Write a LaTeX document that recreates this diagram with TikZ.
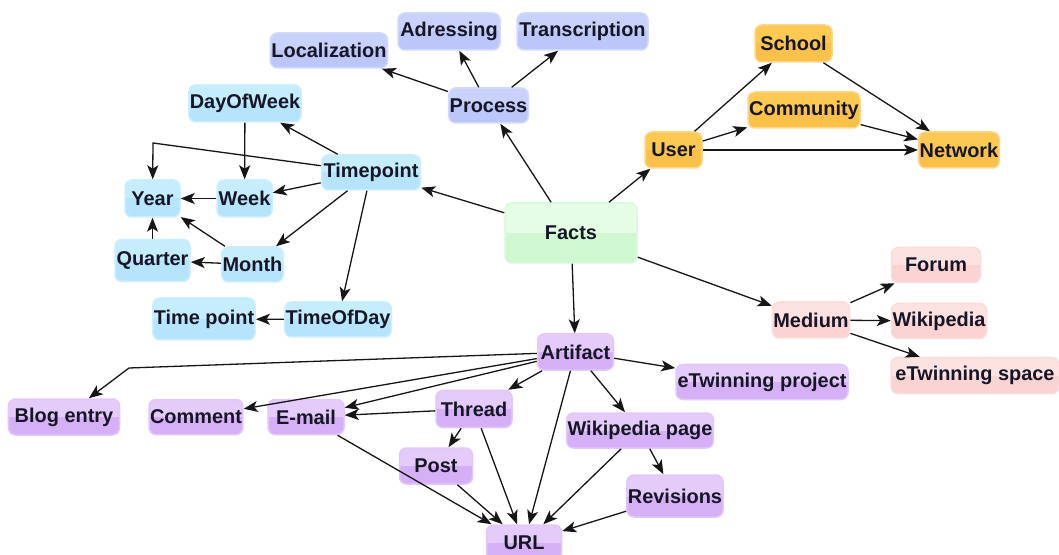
\documentclass[tikz,border=0pt]{standalone}
\usepackage{fontspec}
\setmainfont{Liberation Sans}
\usetikzlibrary{arrows.meta}

% group colours: top half, bottom half, rim
\definecolor{ink}{HTML}{161626}
\definecolor{edgec}{HTML}{161616}
\definecolor{procT}{HTML}{C9D2FB}
\definecolor{procB}{HTML}{BCC6F8}
\definecolor{procL}{HTML}{D3DAFC}
\definecolor{timeT}{HTML}{C6EDFE}
\definecolor{timeB}{HTML}{B5E4FC}
\definecolor{timeL}{HTML}{CDEEFD}
\definecolor{userT}{HTML}{FCC952}
\definecolor{userB}{HTML}{FAC14A}
\definecolor{userL}{HTML}{FCD68C}
\definecolor{factT}{HTML}{E5FCE5}
\definecolor{factB}{HTML}{D0F8D0}
\definecolor{factL}{HTML}{DAF9DA}
\definecolor{medT}{HTML}{FDE2E2}
\definecolor{medB}{HTML}{FBD3D3}
\definecolor{medL}{HTML}{F9DCDC}
\definecolor{artT}{HTML}{E4CBFA}
\definecolor{artB}{HTML}{D6B0F6}
\definecolor{artL}{HTML}{E2C8F8}

\tikzset{
  box/.style={rectangle, rounded corners=7bp, line width=1.5bp, inner sep=1bp,
    font=\bfseries\fontsize{20}{23}\selectfont, text=ink, minimum height=36bp},
  gloss/.style n args={3}{fill=#1, draw=#3,
    path picture={\fill[#2, sharp corners] (path picture bounding box.west)
      rectangle (path picture bounding box.south east);}},
  procbox/.style={box, gloss={procT}{procB}{procL}},
  timebox/.style={box, gloss={timeT}{timeB}{timeL}},
  userbox/.style={box, gloss={userT}{userB}{userL}},
  factbox/.style={box, gloss={factT}{factB}{factL}},
  medbox/.style={box, gloss={medT}{medB}{medL}},
  artbox/.style={box, gloss={artT}{artB}{artL}},
  arr/.style={draw=edgec, line width=1.3bp,
    -{Stealth[length=14bp, width=11bp, inset=3.5bp]}},
}

\begin{document}
\begin{tikzpicture}[x=1bp, y=-1bp]
\useasboundingbox (0,0) rectangle (1059,555);
\clip (0,0) rectangle (1059,555);
\fill[white] (0,0) rectangle (1059,555);

% --- process branch
\node[procbox, minimum width=112bp, minimum height=35bp] (loc)  at (329,50.5)  {Localization};
\node[procbox, minimum width=102bp, minimum height=37bp] (adr)  at (449,31.5)  {Adressing};
\node[procbox, minimum width=131bp, minimum height=37bp] (trn)  at (582.5,31.5){Transcription};
\node[procbox, minimum width=77bp,  minimum height=35bp] (proc) at (488.5,105.5){Process};

% --- user branch
\node[userbox, minimum width=77bp,  minimum height=37bp] (school) at (793.5,43.5) {School};
\node[userbox, minimum width=112bp, minimum height=36bp] (comm)   at (804,110)    {Community};
\node[userbox, minimum width=57bp,  minimum height=36bp] (user)   at (673.5,150)  {User};
\node[userbox, minimum width=78bp,  minimum height=36bp] (net)    at (959,150)    {Network};

% --- centre
\node[factbox, minimum width=132bp, minimum height=60bp] (facts) at (571,233) {Facts};

% --- time branch
\node[timebox, minimum width=110bp, minimum height=37bp] (dow)     at (245,103.5) {DayOfWeek};
\node[timebox, minimum width=99bp,  minimum height=35bp] (tp)      at (371,172.5) {Timepoint};
\node[timebox, minimum width=55bp,  minimum height=37bp] (year)    at (152.5,198.5) {Year};
\node[timebox, minimum width=55bp,  minimum height=37bp] (week)    at (244.5,198.5) {Week};
\node[timebox, minimum width=75bp,  minimum height=42bp] (quarter) at (152.5,260.5) {Quarter};
\node[timebox, minimum width=55bp,  minimum height=35bp] (month)   at (252.5,264.5) {Month};
\node[timebox, minimum width=102bp, minimum height=42bp] (tpt)     at (204,319)     {Time point};
\node[timebox, minimum width=100bp, minimum height=35bp] (tod)     at (338,319.5)   {TimeOfDay};

% --- medium branch
\node[medbox, minimum width=76bp,  minimum height=36bp] (medium) at (811,320)   {Medium};
\node[medbox, minimum width=89bp,  minimum height=35bp] (forum)  at (936,265)   {Forum};
\node[medbox, minimum width=95bp,  minimum height=35bp] (wiki)   at (939,321)   {Wikipedia};
\node[medbox, minimum width=168bp, minimum height=36bp] (espace) at (975,375.5) {eTwinning space};

% --- artifact branch
\node[artbox, minimum width=76bp,  minimum height=36bp] (art)     at (575.5,352) {Artifact};
\node[artbox, minimum width=172bp, minimum height=35bp] (eproj)   at (762,382)   {eTwinning project};
\node[artbox, minimum width=111bp, minimum height=36bp] (blog)    at (64,417)    {Blog entry};
\node[artbox, minimum width=90bp,  minimum height=35bp] (comment) at (196,417)   {Comment};
\node[artbox, minimum width=76bp,  minimum height=35bp] (email)   at (306,417)   {E-mail};
\node[artbox, minimum width=76bp,  minimum height=37bp] (thread)  at (474,409)   {Thread};
\node[artbox, minimum width=73bp,  minimum height=36bp] (post)    at (436,466)   {Post};
\node[artbox, minimum width=144bp, minimum height=35bp] (wpage)   at (640,430.5) {Wikipedia page};
\node[artbox, minimum width=96bp,  minimum height=42bp] (rev)     at (675,496)   {Revisions};
\node[artbox, minimum width=75bp,  minimum height=36bp] (url)     at (524,543)   {URL};

% bend points of the two routed connectors
\coordinate (tpbend) at (153,143);
\coordinate (blogbend) at (129,368);

% --- connectors
\draw[arr] (facts) -- (proc);
\draw[arr] (facts) -- (user);
\draw[arr] (facts) -- (tp);
\draw[arr] (facts) -- (medium);
\draw[arr] (facts) -- (art);

\draw[arr] (proc) -- (loc);
\draw[arr] (proc) -- (adr);
\draw[arr] (proc) -- (trn);

\draw[arr] (user) -- (school);
\draw[arr] (user) -- (comm);
\draw[arr] (user) -- (net);
\draw[arr] (school) -- (net);
\draw[arr] (comm) -- (net);

\draw[arr] (tp) -- (dow);
\draw[arr] (tp) -- (tpbend) -- (year);
\draw[arr] (tp) -- (week);
\draw[arr] (tp) -- (month);
\draw[arr] (tp) -- (tod);
\draw[arr] (dow) -- (week);
\draw[arr] (week) -- (year);
\draw[arr] (month) -- (year);
\draw[arr] (month) -- (quarter);
\draw[arr] (quarter) -- (year);
\draw[arr] (tod) -- (tpt);

\draw[arr] (medium) -- (forum);
\draw[arr] (medium) -- (wiki);
\draw[arr] (medium) -- (espace);

\draw[arr] (art) -- (eproj);
\draw[arr] (art) -- (blogbend) -- (blog);
\draw[arr] (art) -- (comment);
\draw[arr] (art) -- (email);
\draw[arr] (art) -- (thread);
\draw[arr] (art) -- (wpage);
\draw[arr] (art) -- (url);
\draw[arr] (thread) -- (email);
\draw[arr] (thread) -- (post);
\draw[arr] (thread) -- (url);
\draw[arr] (post) -- (url);
\draw[arr] (email) -- (url);
\draw[arr] (wpage) -- (url);
\draw[arr] (wpage) -- (rev);
\draw[arr] (rev) -- (url);
\end{tikzpicture}
\end{document}
